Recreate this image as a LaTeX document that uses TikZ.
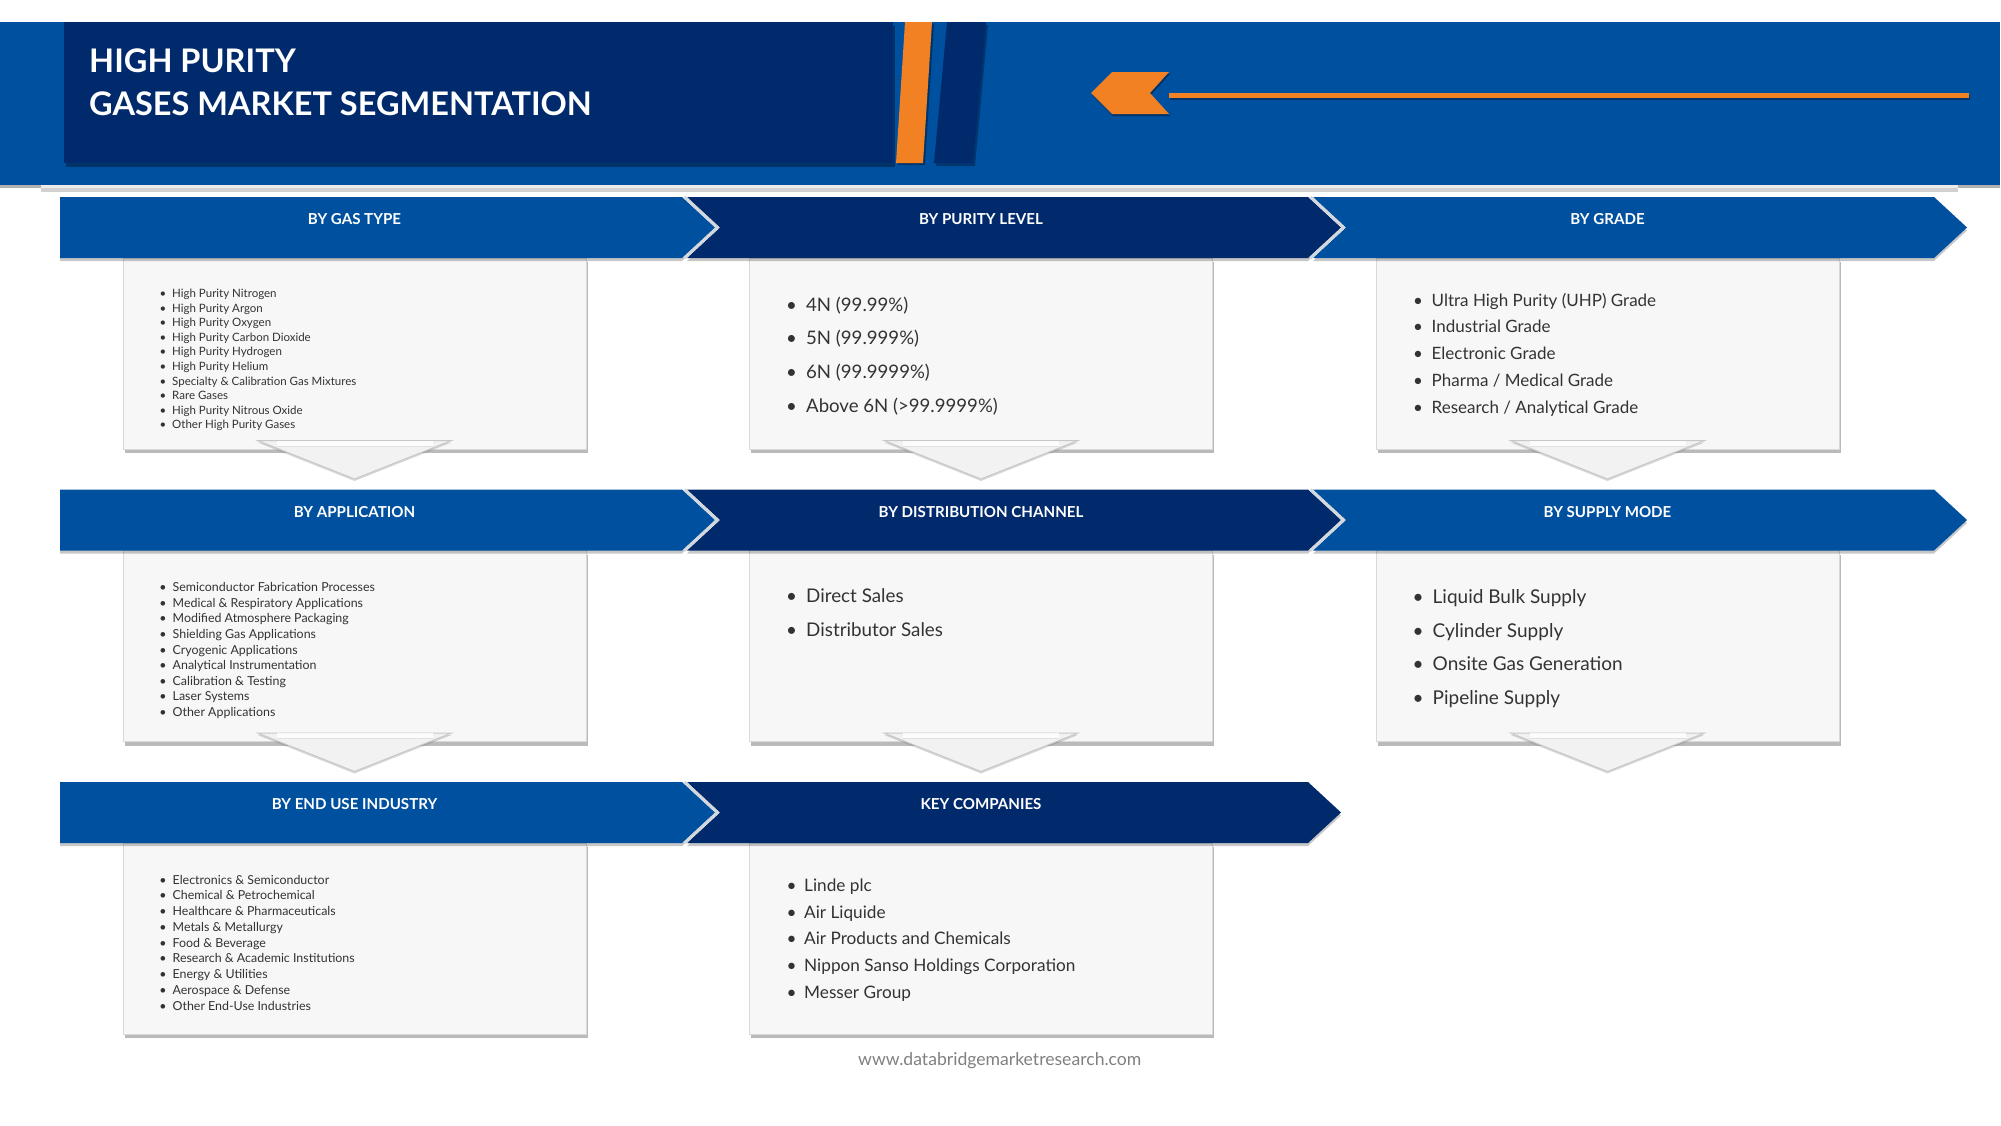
\documentclass[tikz,border=0pt]{standalone}
\usepackage{fontspec}
\setmainfont{Lato}
\usetikzlibrary{shadows}
\definecolor{mblue}{HTML}{0050A0}
\definecolor{navy}{HTML}{002A6C}
\definecolor{dorange}{HTML}{F28124}
\definecolor{boxfill}{HTML}{F7F7F7}
\definecolor{txt}{HTML}{333333}
\definecolor{gapgrey}{HTML}{D3D7DE}
\definecolor{webgrey}{HTML}{808080}
\tikzset{
  listtxt/.style={inner sep=0pt, text=txt},
  bandlabel/.style={inner sep=0pt, text=white, font=\bfseries\fontsize{15.1}{18}\selectfont, anchor=base},
  segbox/.style={fill=boxfill, draw=black!15, line width=0.8pt,
     drop shadow={shadow xshift=1.5pt, shadow yshift=-4pt, opacity=.38, fill=black!70}},
  bandshadow/.style={drop shadow={shadow xshift=0pt, shadow yshift=-3pt, opacity=.22, fill=black}},
  downtri/.style={fill=black!5, draw=black!22, line width=1pt,
     drop shadow={shadow xshift=0pt, shadow yshift=-2pt, opacity=.25, fill=black!60}},
}
\newcommand\blist[7]{%
  \foreach \t [count=\i from 0] in {#7}{
    \node[listtxt, font={\fontsize{#6}{#6}\selectfont}, anchor=base] (#1b\i) at (#2, #4+\i*#5) {\textbullet};
    \node[listtxt, font={\fontsize{#6}{#6}\selectfont}, anchor=base west] (#1t\i) at (#3, #4+\i*#5) {\t};
  }}
\newcommand\bandA[2]{%
  \fill[#1, bandshadow] (60,#2) -- (682,#2) -- (715,#2+30.5) -- (682,#2+61) -- (60,#2+61) -- cycle;}
\newcommand\bandB[2]{%
  \fill[#1, bandshadow] (687,#2) -- (1308,#2) -- (1341,#2+30.5) -- (1308,#2+61) -- (687,#2+61) -- (720,#2+30.5) -- cycle;}
\newcommand\bandC[2]{%
  \fill[#1, bandshadow] (1313,#2) -- (1934,#2) -- (1967,#2+30.5) -- (1934,#2+61) -- (1313,#2+61) -- (1346,#2+30.5) -- cycle;}
\newcommand\gapline[2]{%
  \draw[gapgrey, line width=3pt] (#1,#2) -- (#1+33,#2+30.5) -- (#1,#2+61);}
\newcommand\segbox[2]{%
  \fill[segbox] (#1-231.5,#2+61) rectangle (#1+231.5,#2+252);}
\newcommand\downtri[2]{%
  \path[downtri] (#1-97,#2-8.5) -- (#1+97,#2-8.5) -- (#1,#2+30) -- cycle;
  \fill[white, opacity=.8] (#1-78,#2-8.5) rectangle (#1+78,#2-3);
  \draw[black!12, line width=0.6pt] (#1-78,#2-3) -- (#1+78,#2-3);}

\begin{document}
\begin{tikzpicture}[x=1pt,y=-1pt]
\useasboundingbox (0,0) rectangle (2001,1125);
\fill[white] (0,0) rectangle (2001,1125);

% ---------- header ----------
\fill[mblue, drop shadow={shadow xshift=0pt, shadow yshift=-3pt, opacity=.3, fill=black}] (0,22) rectangle (2000,185);
\fill[black!18] (41,185) rectangle (1958,192);
\fill[white!92!black] (41,185) rectangle (1958,188);
\fill[navy, drop shadow={shadow xshift=2pt, shadow yshift=-4pt, opacity=.35, fill=black}] (64,22) rectangle (893,163);
\fill[dorange, drop shadow={shadow xshift=2pt, shadow yshift=-2pt, opacity=.35, fill=black}] (905,22) -- (932,22) -- (923,163) -- (896,163) -- cycle;
\fill[navy, drop shadow={shadow xshift=2pt, shadow yshift=-3pt, opacity=.3, fill=black}] (947,22) -- (986,22) -- (973,163) -- (934,163) -- cycle;
\fill[dorange, drop shadow={shadow xshift=1pt, shadow yshift=-2pt, opacity=.35, fill=black}] (1091,93) -- (1112,72) -- (1169,72) -- (1150,93) -- (1169,114) -- (1112,114) -- cycle;
\fill[dorange, drop shadow={shadow xshift=1pt, shadow yshift=-1.5pt, opacity=.35, fill=black}] (1169,93) rectangle (1969,98);

\node[anchor=base west, inner sep=0pt, text=white, font=\bfseries\fontsize{32.5}{40}\selectfont] (title1) at (89,72) {HIGH PURITY};
\node[anchor=base west, inner sep=0pt, text=white, font=\bfseries\fontsize{32.5}{40}\selectfont] (title2) at (89,115) {GASES MARKET SEGMENTATION};

% ---------- boxes ----------
\segbox{354.5}{197}
\segbox{981}{197}
\segbox{1607.5}{197}
\segbox{354.5}{489.5}
\segbox{981}{489.5}
\segbox{1607.5}{489.5}
\segbox{354.5}{782}
\segbox{981}{782}

\downtri{354.5}{449}
\downtri{981}{449}
\downtri{1607.5}{449}
\downtri{354.5}{741.5}
\downtri{981}{741.5}
\downtri{1607.5}{741.5}

% ---------- bands ----------
\bandC{mblue}{197}
\bandB{navy}{197}
\bandA{mblue}{197}
\gapline{684.5}{197}
\gapline{1310.5}{197}

\bandC{mblue}{489.5}
\bandB{navy}{489.5}
\bandA{mblue}{489.5}
\gapline{684.5}{489.5}
\gapline{1310.5}{489.5}

\bandB{navy}{782}
\bandA{mblue}{782}
\gapline{684.5}{782}

\node[bandlabel] (h1) at (354.5,224) {BY GAS TYPE};
\node[bandlabel] (h2) at (981,224) {BY PURITY LEVEL};
\node[bandlabel] (h3) at (1607.5,224) {BY GRADE};
\node[bandlabel] (h4) at (354.5,517) {BY APPLICATION};
\node[bandlabel] (h5) at (981,517) {BY DISTRIBUTION CHANNEL};
\node[bandlabel] (h6) at (1607.5,517) {BY SUPPLY MODE};
\node[bandlabel] (h7) at (354.5,809) {BY END USE INDUSTRY};
\node[bandlabel] (h8) at (981,809) {KEY COMPANIES};

% ---------- lists ----------
\blist{gt}{163}{172}{297.7}{14.55}{11.5}{{High Purity Nitrogen},{High Purity Argon},{High Purity Oxygen},{High Purity Carbon Dioxide},{High Purity Hydrogen},{High Purity Helium},{Specialty \& Calibration Gas Mixtures},{Rare Gases},{High Purity Nitrous Oxide},{Other High Purity Gases}}
\blist{pl}{791.5}{806}{311}{33.8}{18.6}{{4N (99.99\%)},{5N (99.999\%)},{6N (99.9999\%)},{Above 6N (>99.9999\%)}}
\blist{gr}{1418}{1431.5}{306}{26.8}{17}{{Ultra High Purity (UHP) Grade},{Industrial Grade},{Electronic Grade},{Pharma / Medical Grade},{Research / Analytical Grade}}
\blist{ap}{163}{172.5}{591.7}{15.6}{12.4}{{Semiconductor Fabrication Processes},{Medical \& Respiratory Applications},{Modified Atmosphere Packaging},{Shielding Gas Applications},{Cryogenic Applications},{Analytical Instrumentation},{Calibration \& Testing},{Laser Systems},{Other Applications}}
\blist{dc}{791.5}{806}{602.7}{34}{18.8}{{Direct Sales},{Distributor Sales}}
\blist{sm}{1418}{1432.5}{603.3}{33.8}{19}{{Liquid Bulk Supply},{Cylinder Supply},{Onsite Gas Generation},{Pipeline Supply}}
\blist{eu}{163}{172.5}{884}{15.75}{12.4}{{Electronics \& Semiconductor},{Chemical \& Petrochemical},{Healthcare \& Pharmaceuticals},{Metals \& Metallurgy},{Food \& Beverage},{Research \& Academic Institutions},{Energy \& Utilities},{Aerospace \& Defense},{Other End-Use Industries}}
\blist{kc}{791.5}{804}{891.7}{26.6}{17.2}{{Linde plc},{Air Liquide},{Air Products and Chemicals},{Nippon Sanso Holdings Corporation},{Messer Group}}

\node[anchor=base, inner sep=0pt, text=webgrey, font=\fontsize{17.6}{18}\selectfont] (web) at (999.75,1065) {www.databridgemarketresearch.com};
\end{tikzpicture}
\end{document}
